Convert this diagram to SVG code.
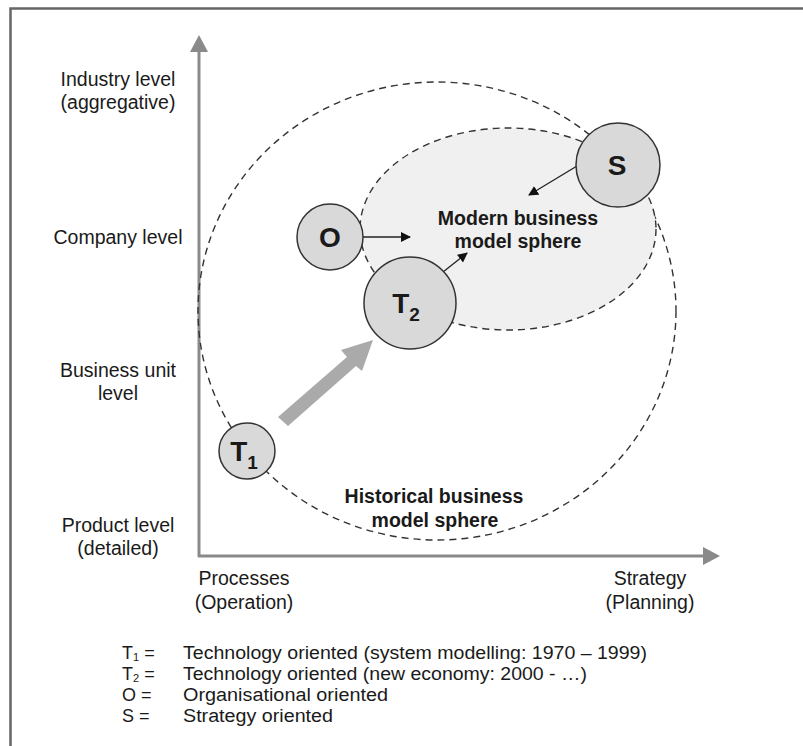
<svg xmlns="http://www.w3.org/2000/svg" width="803" height="746" viewBox="0 0 803 746">
<style>
text{font-family:"Liberation Sans",Arial,sans-serif;fill:#1a1a1a}
.lbl{font-size:19.5px;text-anchor:middle}
.leg{font-size:18px}
.bold{font-weight:bold;font-size:19.5px;text-anchor:middle}
.node{fill:#d9d9d9;stroke:#333;stroke-width:1.5}
.nt{font-weight:bold;font-size:28px;text-anchor:middle}
.dash{stroke:#333;stroke-width:1.4;stroke-dasharray:7 5}
.thin{stroke:#222;stroke-width:1.3;fill:none;marker-end:url(#ah)}
</style>
<defs>
<marker id="ah" viewBox="0 0 10 10" refX="9" refY="5" markerWidth="10" markerHeight="10" markerUnits="userSpaceOnUse" orient="auto">
<path d="M0,0 L10,5 L0,10 z" fill="#111"/>
</marker>
</defs>
<rect width="803" height="746" fill="#fff"/>
<path d="M10.5,760 V8.5 H810" fill="none" stroke="#666" stroke-width="2.5"/>

<g id="axes">
<line x1="199" y1="557" x2="199" y2="50" stroke="#8a8a8a" stroke-width="3"/>
<path d="M190,52 L199,35 L208,52 z" fill="#8a8a8a"/>
<line x1="198" y1="556" x2="705" y2="556" stroke="#8a8a8a" stroke-width="3"/>
<path d="M703,547 L720,556 L703,565 z" fill="#8a8a8a"/>
</g>

<g id="axis-labels">
<text class="lbl" x="118" y="86">Industry level</text>
<text class="lbl" x="118" y="109">(aggregative)</text>
<text class="lbl" x="118" y="244">Company level</text>
<text class="lbl" x="118" y="377">Business unit</text>
<text class="lbl" x="118" y="400">level</text>
<text class="lbl" x="118" y="532">Product level</text>
<text class="lbl" x="118" y="555">(detailed)</text>
<text class="lbl" x="244" y="585">Processes</text>
<text class="lbl" x="244" y="609">(Operation)</text>
<text class="lbl" x="650" y="585">Strategy</text>
<text class="lbl" x="650" y="609">(Planning)</text>
</g>

<g id="historical-sphere">
<ellipse class="dash" cx="437" cy="311" rx="239" ry="229" style="fill:none"/>
<text class="bold" x="434" y="503">Historical business</text>
<text class="bold" x="435" y="527">model sphere</text>
</g>

<g id="modern-sphere">
<ellipse class="dash" cx="508" cy="229" rx="148" ry="101" style="fill:#f0f0f0"/>
<text class="bold" x="518" y="225">Modern business</text>
<text class="bold" x="518" y="248">model sphere</text>
</g>

<g id="connectors">
<path d="M278,417 L347,357 L341,350 L373,340 L362,371 L356,366 L288,426 z" fill="#aaaaaa"/>
<line class="thin" x1="577" y1="166" x2="529" y2="195"/>
<line class="thin" x1="363" y1="237" x2="410" y2="237"/>
<line class="thin" x1="443" y1="272" x2="467" y2="253"/>
</g>

<g id="node-S">
<circle class="node" cx="618" cy="165" r="42"/>
<text class="nt" x="617" y="175">S</text>
</g>
<g id="node-O">
<circle class="node" cx="330" cy="237" r="33"/>
<text class="nt" x="330" y="247">O</text>
</g>
<g id="node-T2">
<circle class="node" cx="410" cy="303" r="46"/>
<text class="nt" x="406" y="313">T<tspan font-size="19" dy="8">2</tspan></text>
</g>
<g id="node-T1">
<circle class="node" cx="247" cy="451" r="28"/>
<text class="nt" x="244" y="461">T<tspan font-size="19" dy="8">1</tspan></text>
</g>

<g id="legend">
<text class="leg" x="122" y="659">T<tspan font-size="11" dy="2">1</tspan><tspan dy="-2"> =</tspan></text>
<text class="leg" x="122" y="680">T<tspan font-size="11" dy="2">2</tspan><tspan dy="-2"> =</tspan></text>
<text class="leg" x="122" y="701">O  =</text>
<text class="leg" x="122" y="722">S  =</text>
<text class="leg" x="183" y="659" textLength="464" lengthAdjust="spacingAndGlyphs">Technology oriented (system modelling: 1970 – 1999)</text>
<text class="leg" x="183" y="680" textLength="404" lengthAdjust="spacingAndGlyphs">Technology oriented (new economy: 2000 - …)</text>
<text class="leg" x="183" y="701" textLength="205" lengthAdjust="spacingAndGlyphs">Organisational oriented</text>
<text class="leg" x="183" y="722" textLength="150" lengthAdjust="spacingAndGlyphs">Strategy oriented</text>
</g>
</svg>
